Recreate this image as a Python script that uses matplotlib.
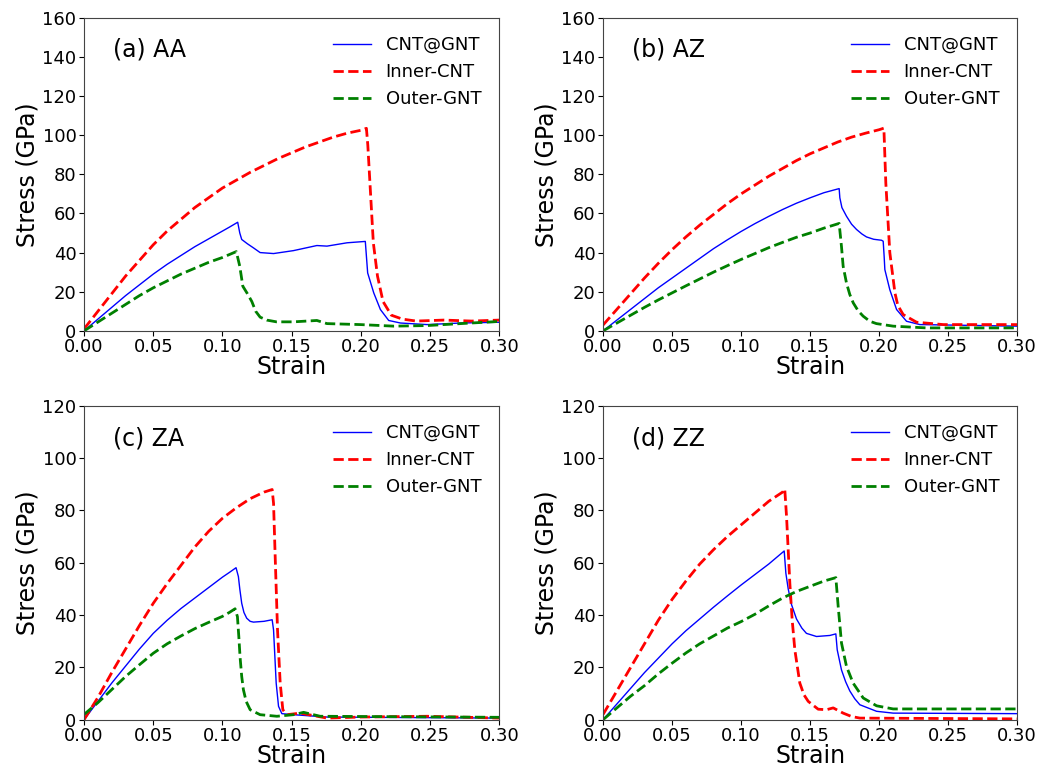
import numpy as np
import matplotlib
matplotlib.use("Agg")
import matplotlib.pyplot as plt

# ---- digitised data (strain, stress in GPa) ----
# (a) AA
aa_cnt_gnt_x = [0, 0.01, 0.02, 0.03, 0.04, 0.05, 0.06, 0.07, 0.08, 0.09, 0.10, 0.105, 0.111,
                0.1125, 0.1139, 0.118, 0.1224, 0.1272, 0.1369, 0.1513, 0.1682,
                0.1755, 0.19, 0.2032, 0.2049, 0.2093, 0.2141, 0.2201, 0.2286, 0.2479, 0.272, 0.30]
aa_cnt_gnt_y = [0, 6, 12, 18, 23.5, 29, 34, 38.5, 43, 47, 51, 53, 55.5,
                50, 46.7, 44.5, 42.4, 40, 39.5, 41, 43.6,
                43.3, 45, 45.7, 29.6, 19.4, 10.9, 5.3, 4, 3.2, 4, 4.4]
aa_inner_x = [0, 0.01, 0.02, 0.03, 0.04, 0.05, 0.06, 0.07, 0.08, 0.09, 0.10, 0.11, 0.12, 0.13, 0.14,
              0.15, 0.16, 0.17, 0.18, 0.19, 0.20, 0.204, 0.205, 0.207, 0.209, 0.212, 0.216, 0.222,
              0.23, 0.24, 0.26, 0.28, 0.30]
aa_inner_y = [1, 10, 19, 28, 36, 44, 51, 57, 63, 68, 73, 77, 81, 84.5, 88,
              91, 94, 96.5, 99, 101, 102.5, 103.5, 95, 70, 45, 28, 15, 8,
              6, 5, 5.5, 5, 5.5]
aa_outer_x = [0, 0.01, 0.02, 0.03, 0.04, 0.05, 0.06, 0.07, 0.08, 0.09, 0.10, 0.105, 0.110,
              0.1125, 0.1147, 0.118, 0.1212, 0.124, 0.1272, 0.132, 0.139, 0.1513,
              0.1682, 0.1755, 0.1996, 0.2238, 0.2479, 0.272, 0.30]
aa_outer_y = [0, 4.5, 9, 13.5, 18, 22, 25.5, 29, 32, 35, 37.5, 39, 40.5,
              33, 22.8, 19, 15, 10, 7, 5.5, 4.6, 4.6,
              5.3, 3.7, 3.2, 2.4, 2.7, 3.7, 4.8]

# (b) AZ
az_cnt_gnt_x = [0, 0.01, 0.02, 0.03, 0.04, 0.05, 0.06, 0.07, 0.08, 0.09, 0.10, 0.11, 0.12, 0.13,
                0.14, 0.15, 0.16, 0.171, 0.1715, 0.173, 0.1763, 0.18, 0.1836, 0.1875, 0.1908,
                0.196, 0.2017, 0.2029, 0.2036, 0.2041, 0.2077, 0.2126, 0.2198, 0.2295, 0.30]
az_cnt_gnt_y = [0, 5.5, 11, 16.5, 22, 27, 32, 37, 42, 46.5, 50.8, 54.8, 58.5, 62,
                65.2, 68, 70.6, 72.7, 68, 63, 58.6, 54.5, 51.8, 49.5, 48,
                46.8, 46.3, 45.8, 38, 31.3, 21, 10.9, 4.9, 3.2, 2.4]
az_inner_x = [0, 0.01, 0.02, 0.03, 0.04, 0.05, 0.06, 0.07, 0.08, 0.09, 0.10, 0.11, 0.12, 0.13,
              0.14, 0.15, 0.16, 0.17, 0.18, 0.19, 0.20, 0.2034, 0.2048, 0.2077,
              0.2114, 0.2135, 0.2174, 0.2271, 0.2464, 0.30]
az_inner_y = [3, 11, 19, 27, 34.5, 41.5, 48, 54, 59.5, 65, 70, 74.5, 79, 83,
              87, 90.5, 93.5, 96.5, 99, 101, 102.8, 103.6, 75.6, 40,
              19.4, 13, 8.3, 4.4, 3.2, 3.2]
az_outer_x = [0, 0.01, 0.02, 0.03, 0.04, 0.05, 0.06, 0.07, 0.08, 0.09, 0.10, 0.11, 0.12, 0.13,
              0.14, 0.15, 0.16, 0.171, 0.1727, 0.1739, 0.1763, 0.1787, 0.1812, 0.1848,
              0.1884, 0.1932, 0.198, 0.2101, 0.2343, 0.30]
az_outer_y = [0, 4, 8, 12, 15.8, 19.4, 23, 26.5, 30, 33.3, 36.5, 39.5, 42.5, 45.2,
              47.8, 50, 52.5, 54.9, 43, 33, 24.5, 18.6, 14.3, 10.2,
              7.5, 4.9, 3.7, 2.4, 1.5, 1.5]

# (c) ZA
za_cnt_gnt_x = [0, 0.01, 0.02, 0.03, 0.04, 0.05, 0.06, 0.07, 0.08, 0.09, 0.10, 0.105, 0.1098,
                0.1115, 0.1125, 0.1139, 0.1155, 0.1175, 0.12, 0.1224, 0.13, 0.1359, 0.1369,
                0.1388, 0.1405, 0.1429, 0.1513, 0.1755, 0.30]
za_cnt_gnt_y = [0, 7, 14, 20.5, 27, 33, 38, 42.5, 46.5, 50.5, 54.5, 56.3, 58.1,
                54.7, 50, 44.5, 41, 38.8, 37.6, 37.3, 37.6, 38.2, 34.3,
                14, 5.1, 2.3, 1.9, 1, 0.6]
za_inner_x = [0, 0.01, 0.02, 0.03, 0.04, 0.05, 0.06, 0.07, 0.08, 0.09, 0.10, 0.11, 0.12, 0.13, 0.1359,
              0.1369, 0.1381, 0.1398, 0.1417, 0.1436, 0.1465, 0.1561, 0.1755, 0.1996, 0.2479, 0.30]
za_inner_y = [0, 8.5, 18, 27, 36, 44.5, 52, 59, 66, 72, 77, 81, 84.5, 87, 88,
              82.7, 62, 34, 14, 3.8, 1.9, 2.5, 0.6, 1, 1.3, 0.6]
za_outer_x = [0, 0.01, 0.02, 0.03, 0.04, 0.05, 0.06, 0.07, 0.08, 0.09, 0.10, 0.105, 0.1091,
              0.1108, 0.1118, 0.1127, 0.1139, 0.1151, 0.1171, 0.12, 0.1272,
              0.1393, 0.1513, 0.1586, 0.1706, 0.30]
za_outer_y = [2, 6.5, 11.5, 16.5, 21, 25.4, 29, 32, 34.8, 37.2, 39.5, 41, 42.4,
              39.4, 31.8, 24, 16.5, 11.5, 7, 3.8, 1.9,
              1.3, 1.9, 2.8, 1.3, 0.9]

# (d) ZZ
zz_cnt_gnt_x = [0, 0.01, 0.02, 0.03, 0.04, 0.05, 0.06, 0.07, 0.08, 0.09, 0.10, 0.11, 0.12,
                0.1312, 0.1324, 0.1341, 0.1365, 0.1401, 0.144, 0.1473, 0.1546, 0.1643,
                0.1686, 0.1696, 0.1727, 0.1757, 0.1787, 0.1823, 0.186, 0.1981, 0.2101, 0.30]
zz_cnt_gnt_y = [0, 6, 12, 18, 23.5, 29, 34, 38.5, 43, 47.3, 51.5, 55.5, 59.5,
                64.5, 56, 50, 44, 38.5, 35, 33, 31.8, 32.2,
                32.8, 26.7, 19, 14.5, 11, 8, 5.7, 3.2, 2.5, 2.3]
zz_inner_x = [0, 0.01, 0.02, 0.03, 0.04, 0.05, 0.06, 0.07, 0.08, 0.09, 0.10, 0.11, 0.12, 0.13, 0.1316,
              0.1329, 0.1353, 0.137, 0.1389, 0.1425, 0.1455, 0.1486, 0.1558, 0.1618, 0.1667,
              0.1739, 0.18, 0.186, 0.30]
zz_inner_y = [2, 11, 20, 29, 38, 46, 53, 59.5, 65, 70, 74.5, 79, 83.5, 87, 88.2,
              77.6, 52, 38, 26.7, 14, 9.5, 7, 4, 3.8, 4.5,
              2.5, 1.2, 0.6, 0.3]
zz_outer_x = [0, 0.01, 0.02, 0.03, 0.04, 0.05, 0.06, 0.07, 0.08, 0.09, 0.10, 0.11, 0.12, 0.13,
              0.14, 0.15, 0.16, 0.1686, 0.1703, 0.1727, 0.1763, 0.1811,
              0.1884, 0.1981, 0.2101, 0.30]
zz_outer_y = [0, 4.5, 9, 13, 17.5, 21.6, 25.5, 29, 32, 35, 37.5, 40.3, 43.5, 46.5,
              49, 51, 53, 54.3, 43.3, 29.3, 20.4, 14,
              8.3, 5.3, 4.1, 4.1]

PANELS = [
    ("(a) AA", 160, aa_cnt_gnt_x, aa_cnt_gnt_y, aa_inner_x, aa_inner_y, aa_outer_x, aa_outer_y),
    ("(b) AZ", 160, az_cnt_gnt_x, az_cnt_gnt_y, az_inner_x, az_inner_y, az_outer_x, az_outer_y),
    ("(c) ZA", 120, za_cnt_gnt_x, za_cnt_gnt_y, za_inner_x, za_inner_y, za_outer_x, za_outer_y),
    ("(d) ZZ", 120, zz_cnt_gnt_x, zz_cnt_gnt_y, zz_inner_x, zz_inner_y, zz_outer_x, zz_outer_y),
]

AX_POS = [
    [0.081, 0.572, 0.400, 0.405],
    [0.581, 0.572, 0.399, 0.405],
    [0.081, 0.069, 0.400, 0.406],
    [0.581, 0.069, 0.399, 0.406],
]

fig = plt.figure(figsize=(10.38, 7.73), dpi=100)
fig.patch.set_facecolor("white")

for pos, (label, ymax, bx, by, rx, ry, gx, gy) in zip(AX_POS, PANELS):
    ax = fig.add_axes(pos)
    ax.plot(bx, by, color="blue", lw=1.0, label="CNT@GNT")
    ax.plot(rx, ry, color="red", lw=2.0, ls="--", label="Inner-CNT")
    ax.plot(gx, gy, color="green", lw=2.0, ls="--", label="Outer-GNT")

    ax.set_xlim(0, 0.30)
    ax.set_ylim(0, ymax)
    ax.set_xticks(np.arange(0, 0.301, 0.05))
    ax.set_xticklabels([f"{v:.2f}" for v in np.arange(0, 0.301, 0.05)])
    ax.tick_params(labelsize=13, pad=2)
    ax.set_xlabel("Strain", fontsize=17, labelpad=-1)
    ax.set_ylabel("Stress (GPa)", fontsize=17, labelpad=2)
    ax.text(0.07, 0.875, label, transform=ax.transAxes, fontsize=17)
    ax.legend(loc="upper right", frameon=False, fontsize=13, handlelength=2.1,
              labelspacing=0.5, borderaxespad=0.6)
    for spine in ax.spines.values():
        spine.set_color("#444444")

fig.savefig("out.png", dpi=100, facecolor="white")
